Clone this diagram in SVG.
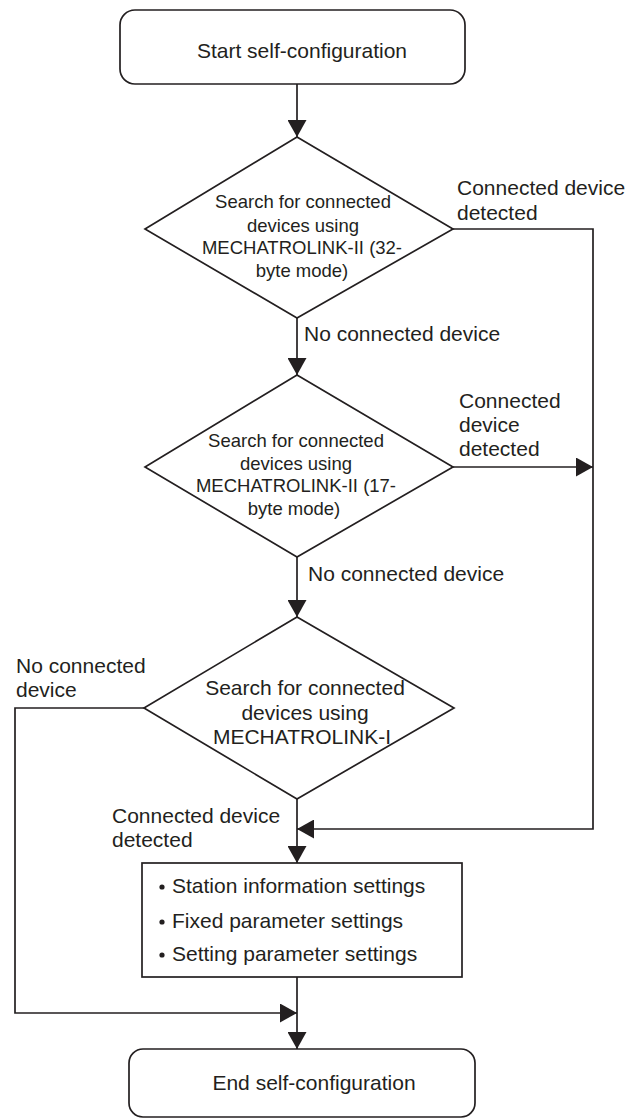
<svg xmlns="http://www.w3.org/2000/svg" width="631" height="1119" viewBox="0 0 631 1119">
<style>
.shape{fill:#ffffff;stroke:#231f20;stroke-width:1.7}
.conn{fill:none;stroke:#231f20;stroke-width:1.7}
text{font-family:"Liberation Sans",Arial,sans-serif;fill:#231f20}
.big{font-size:21px}
.dm{font-size:18.5px;text-anchor:middle}
.ctr{text-anchor:middle}
</style>
<defs>
<marker id="ah" markerUnits="userSpaceOnUse" markerWidth="17" markerHeight="19" refX="17" refY="9.5" orient="auto">
<path d="M0,0 L17,9.5 L0,19 z" fill="#231f20"/>
</marker>
</defs>
<rect width="631" height="1119" fill="#ffffff"/>
<g id="connectors">
<path class="conn" d="M297,84 V137" marker-end="url(#ah)"/>
<path class="conn" d="M297,318 V375" marker-end="url(#ah)"/>
<path class="conn" d="M297,557 V617" marker-end="url(#ah)"/>
<path class="conn" d="M297,799 V863" marker-end="url(#ah)"/>
<path class="conn" d="M297,977 V1049" marker-end="url(#ah)"/>
<path class="conn" d="M453,229 H593 V829 H297" marker-end="url(#ah)"/>
<path class="conn" d="M453,467 H593" marker-end="url(#ah)"/>
<path class="conn" d="M144,708 H15 V1013 H297" marker-end="url(#ah)"/>
<text class="big" x="457" y="195">Connected device</text>
<text class="big" x="457" y="220">detected</text>
<text class="big" x="304" y="341">No connected device</text>
<text class="big" x="459" y="408">Connected</text>
<text class="big" x="459" y="432">device</text>
<text class="big" x="459" y="456">detected</text>
<text class="big" x="308" y="581">No connected device</text>
<text class="big" x="16" y="673">No connected</text>
<text class="big" x="16" y="697">device</text>
<text class="big" x="112" y="823">Connected device</text>
<text class="big" x="112" y="847">detected</text>
</g>
<g id="start">
<rect class="shape" x="120" y="10" width="345" height="74" rx="15" ry="15"/>
<text class="big ctr" x="302" y="58">Start self-configuration</text>
</g>
<g id="search32">
<polygon class="shape" points="297,137 453,229 297,318 145,229"/>
<text class="dm" x="303" y="208">Search for connected</text>
<text class="dm" x="303" y="232">devices using</text>
<text class="dm" x="302" y="254">MECHATROLINK-II (32-</text>
<text class="dm" x="302" y="277">byte mode)</text>
</g>
<g id="search17">
<polygon class="shape" points="297,375 453,467 297,557 145,467"/>
<text class="dm" x="296" y="447">Search for connected</text>
<text class="dm" x="296" y="470">devices using</text>
<text class="dm" x="296" y="492">MECHATROLINK-II (17-</text>
<text class="dm" x="294" y="515">byte mode)</text>
</g>
<g id="searchI">
<polygon class="shape" points="297,617 454,708 297,799 144,708"/>
<text class="big ctr" x="305" y="695">Search for connected</text>
<text class="big ctr" x="305" y="720">devices using</text>
<text class="big ctr" x="302" y="744">MECHATROLINK-I</text>
</g>
<g id="settings">
<rect class="shape" x="142" y="863" width="320" height="114"/>
<circle cx="162" cy="887" r="2.6" fill="#231f20"/>
<circle cx="162" cy="922" r="2.6" fill="#231f20"/>
<circle cx="162" cy="955" r="2.6" fill="#231f20"/>
<text class="big" x="172" y="893">Station information settings</text>
<text class="big" x="172" y="928">Fixed parameter settings</text>
<text class="big" x="172" y="961">Setting parameter settings</text>
</g>
<g id="end">
<rect class="shape" x="129" y="1049" width="346" height="68" rx="14" ry="14"/>
<text class="big ctr" x="314" y="1090">End self-configuration</text>
</g>
</svg>
